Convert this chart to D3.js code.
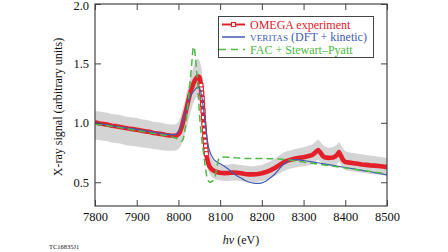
<!DOCTYPE html>
<html><head><meta charset="utf-8">
<script src="https://cdn.jsdelivr.net/npm/d3@7"></script>
<style>
html,body{margin:0;padding:0;background:#fff;}
svg{display:block;}
svg text{font-family:"Liberation Serif","Times New Roman",serif !important;}
</style></head><body>
<svg id="c" width="448" height="252"></svg>
<script>
// ---------- data ----------
const xTicks = [7800, 7900, 8000, 8100, 8200, 8300, 8400, 8500];
const yTicks = [0.5, 1.0, 1.5, 2.0];

// OMEGA experiment
const expE = [7800,7810,7820,7830,7840,7850,7860,7870,7880,7890,7900,7910,7920,7930,7940,7950,7960,7970,7980,7990,
  7995,8000,8003,8006,8009,8012,8015,8018,8021,8024,8027,8030,8033,8036,8039,8042,8045,8048,8050,
  8051,8052,8053,8054,8055,8056,8057,8058,8059,8060,8061,8062,8063,8064,8065,8066,8067,8068,8069,8070,
  8071,8072,8073,8074,8075,8077,8079,8082,8086,8090,8095,8100,
  8110,8120,8130,8140,8150,8160,8170,8180,8190,8200,8210,8220,8230,8240,8250,8260,8270,8280,8290,8300,
  8310,8320,8325,8330,8335,8340,8345,8350,8360,8370,8375,8380,8385,8390,8395,8400,
  8410,8420,8430,8440,8450,8460,8470,8480,8490,8500];
const expS = [1.005,0.995,0.99,0.985,0.975,0.972,0.965,0.958,0.952,0.947,0.942,0.935,0.928,0.925,0.915,0.91,0.905,0.898,0.893,0.89,
  0.893,0.905,0.92,0.945,0.98,1.02,1.06,1.10,1.145,1.19,1.235,1.27,1.30,1.33,1.355,1.37,1.385,1.39,1.385,
  1.375,1.36,1.34,1.315,1.285,1.25,1.205,1.155,1.10,1.045,0.99,0.94,0.89,0.845,0.805,0.77,0.74,0.715,0.695,0.68,
  0.665,0.655,0.645,0.637,0.63,0.62,0.612,0.603,0.595,0.588,0.583,0.58,
  0.577,0.578,0.582,0.58,0.575,0.57,0.566,0.566,0.57,0.576,0.586,0.60,0.618,0.64,0.663,0.68,0.69,0.70,0.705,0.71,
  0.718,0.728,0.74,0.758,0.77,0.752,0.725,0.71,0.705,0.708,0.715,0.73,0.752,0.72,0.685,0.67,
  0.665,0.66,0.655,0.65,0.646,0.642,0.64,0.636,0.632,0.627];

// experimental uncertainty band
const bandE = [7800,7810,7820,7830,7840,7850,7860,7870,7880,7890,7900,7910,7920,7930,7940,7950,7960,7970,7980,7990,
  7995,8000,8005,8010,8015,8020,8025,8030,8035,8040,8045,8050,8055,8060,8065,8070,8075,8080,8085,8090,8095,8100,
  8110,8120,8130,8140,8150,8160,8170,8180,8190,8200,8210,8220,8230,8240,8250,8260,8270,8280,8290,8300,
  8310,8320,8330,8335,8340,8350,8360,8370,8380,8385,8390,8400,8410,8420,8430,8440,8450,8460,8470,8480,8490,8500];
const bandHi = [1.10,1.095,1.09,1.085,1.075,1.07,1.065,1.055,1.05,1.045,1.04,1.03,1.025,1.02,1.01,1.005,1.0,0.99,0.985,0.985,
  0.99,1.01,1.05,1.11,1.18,1.26,1.33,1.40,1.46,1.51,1.54,1.53,1.47,1.30,1.05,0.86,0.75,0.70,0.675,0.66,0.655,0.65,
  0.645,0.65,0.655,0.65,0.645,0.64,0.635,0.635,0.64,0.645,0.66,0.675,0.695,0.72,0.745,0.76,0.77,0.78,0.785,0.795,
  0.805,0.815,0.845,0.86,0.84,0.80,0.79,0.795,0.815,0.84,0.81,0.76,0.75,0.745,0.74,0.735,0.73,0.725,0.72,0.715,0.71,0.705];
const bandLo = [0.86,0.855,0.85,0.845,0.835,0.83,0.825,0.815,0.81,0.805,0.80,0.795,0.79,0.785,0.78,0.775,0.77,0.765,0.765,0.765,
  0.77,0.78,0.80,0.84,0.90,0.96,1.03,1.10,1.16,1.20,1.22,1.20,1.05,0.85,0.70,0.61,0.57,0.545,0.53,0.525,0.52,0.515,
  0.51,0.51,0.515,0.515,0.51,0.505,0.50,0.50,0.505,0.51,0.52,0.535,0.55,0.57,0.59,0.605,0.615,0.625,0.63,0.635,
  0.64,0.65,0.675,0.69,0.675,0.64,0.635,0.635,0.65,0.675,0.645,0.60,0.595,0.59,0.585,0.58,0.575,0.57,0.57,0.565,0.56,0.555];

// VERITAS (DFT + kinetic)
const verE = [7800,7850,7900,7950,7980,7990,7995,8000,8005,8010,8015,8020,8025,8030,8035,8040,8045,8048,8051,8054,8057,
  8060,8063,8066,8069,8072,8076,8080,8085,8090,8100,8110,8120,8130,8140,8150,8160,8170,8180,8190,8200,
  8210,8220,8230,8240,8250,8260,8270,8280,8290,8300,8320,8340,8360,8380,8400,8420,8440,8460,8480,8500];
const verS = [1.0,0.97,0.945,0.915,0.90,0.90,0.905,0.925,0.96,1.01,1.07,1.13,1.19,1.23,1.26,1.28,1.30,1.305,1.29,1.255,1.20,
  1.12,1.03,0.94,0.86,0.80,0.75,0.72,0.69,0.675,0.655,0.635,0.61,0.58,0.555,0.535,0.515,0.50,0.492,0.49,0.495,
  0.51,0.535,0.565,0.605,0.645,0.67,0.685,0.69,0.688,0.683,0.672,0.66,0.648,0.636,0.624,0.612,0.60,0.588,0.575,0.562];

// FAC + Stewart–Pyatt
const facE = [7800,7850,7900,7950,7980,7995,8000,8005,8008,8012,8016,8020,8024,8028,8032,8036,8038,8041,8044,8048,
  8052,8056,8060,8064,8068,8072,8076,8080,8084,8088,8092,8096,8100,8104,8110,8120,8140,8160,8180,8200,
  8220,8240,8260,8280,8300,8320,8340,8360,8380,8400,8420,8440,8460,8480,8500];
const facS = [0.99,0.965,0.935,0.905,0.885,0.87,0.86,0.85,0.845,0.87,0.95,1.06,1.20,1.34,1.50,1.64,1.63,1.54,1.42,1.21,
  1.00,0.86,0.75,0.64,0.55,0.51,0.50,0.505,0.52,0.55,0.62,0.69,0.705,0.71,0.712,0.71,0.705,0.70,0.70,0.70,
  0.698,0.695,0.69,0.68,0.67,0.66,0.65,0.64,0.63,0.62,0.61,0.60,0.59,0.58,0.57];

const legendLabels = ["OMEGA experiment", "VERITAS", " (DFT + kinetic)", "FAC + Stewart–Pyatt"];

// ---------- drawing ----------
const RED = "#e3202a", BLUE = "#3f5cb4", GREEN = "#4cb944", AX = "#444";
const FONT = "Liberation Serif, Times New Roman, serif";
const svg = d3.select("#c");
const L = 95, R = 387, T = 4, B = 206;
const x = d3.scaleLinear().domain([7800, 8500]).range([L, R]);
const y = d3.scaleLinear().domain([0.3, 2.0]).range([B, T]);

svg.append("defs").append("clipPath").attr("id", "clip")
  .append("rect").attr("x", L).attr("y", T).attr("width", R - L).attr("height", B - T);
const g = svg.append("g").attr("clip-path", "url(#clip)");

const band = bandE.map((e, i) => ({e, hi: bandHi[i], lo: bandLo[i]}));
g.append("path").datum(band)
  .attr("d", d3.area().x(d => x(d.e)).y0(d => y(d.lo)).y1(d => y(d.hi)))
  .attr("fill", "#d4d4d4");

const exp = expE.map((e, i) => ({e, s: expS[i]}));
g.append("path").datum(exp)
  .attr("d", d3.line().x(d => x(d.e)).y(d => y(d.s)))
  .attr("fill", "none").attr("stroke", RED).attr("stroke-width", 4.6).attr("stroke-linejoin", "round");

// open square markers; where the original dense markers overlap they merge into a solid band,
// so only well separated (steep) markers keep a visible white interior
const ms = 4;
const steepAt = i => {
  if (i === 0 || i === exp.length - 1) return false;
  const px = x(exp[i].e), py = y(exp[i].s);
  const st = j => {
    const dx = Math.abs(px - x(exp[j].e)), dy = Math.abs(py - y(exp[j].s));
    return dy > 2.6 && dy > 5 * dx;
  };
  return st(i - 1) && st(i + 1);
};
g.selectAll("rect.m").data(exp.filter((d, i) => steepAt(i))).join("rect").attr("class", "m")
  .attr("x", d => x(d.e) - ms / 2).attr("y", d => y(d.s) - ms / 2)
  .attr("width", ms).attr("height", ms)
  .attr("stroke", RED).attr("stroke-width", 1.1).attr("fill", "#fff");

const ver = verE.map((e, i) => ({e, s: verS[i]}));
g.append("path").datum(ver)
  .attr("d", d3.line().x(d => x(d.e)).y(d => y(d.s)).curve(d3.curveMonotoneX))
  .attr("fill", "none").attr("stroke", BLUE).attr("stroke-width", 1.2);

const fac = facE.map((e, i) => ({e, s: facS[i]}));
g.append("path").datum(fac)
  .attr("d", d3.line().x(d => x(d.e)).y(d => y(d.s)).curve(d3.curveMonotoneX))
  .attr("fill", "none").attr("stroke", GREEN).attr("stroke-width", 1.5)
  .attr("stroke-dasharray", "7,4");

// axes (ticks inward)
const styleAxis = sel => {
  sel.attr("font-family", FONT);
  sel.select(".domain").remove();
  sel.selectAll(".tick line").attr("stroke", AX).attr("stroke-width", 1);
  sel.selectAll(".tick text").attr("fill", "#111").attr("font-size", 12.5).attr("font-family", FONT);
};
svg.append("g").attr("transform", `translate(0,${B})`)
  .call(d3.axisBottom(x).tickValues(xTicks).tickFormat(d3.format("d")).tickSizeInner(-6).tickSizeOuter(0).tickPadding(6))
  .call(styleAxis);
svg.append("g").attr("transform", `translate(0,${T})`)
  .call(d3.axisTop(x).tickValues(xTicks).tickFormat("").tickSizeInner(-6).tickSizeOuter(0))
  .call(styleAxis);
const ya = svg.append("g").attr("transform", `translate(${L},0)`)
  .call(d3.axisLeft(y).tickValues(yTicks).tickFormat(d3.format(".1f")).tickSizeInner(-6).tickSizeOuter(0).tickPadding(6))
  .call(styleAxis);
ya.selectAll(".tick text").filter(d => d === 2.0).attr("dy", "0.45em");
svg.append("g").attr("transform", `translate(${R},0)`)
  .call(d3.axisRight(y).tickValues(yTicks).tickFormat("").tickSizeInner(-6).tickSizeOuter(0))
  .call(styleAxis);

svg.append("rect").attr("x", L).attr("y", T).attr("width", R - L).attr("height", B - T)
  .attr("fill", "none").attr("stroke", AX).attr("stroke-width", 1.2);

// axis titles
svg.append("text").attr("transform", `translate(62,${(T + B) / 2 + 2}) rotate(-90)`)
  .attr("text-anchor", "middle").attr("font-size", 12).attr("fill", "#111").attr("font-family", FONT)
  .text("X-ray signal (arbitrary units)");
const xt = svg.append("text").attr("x", (L + R) / 2).attr("y", 244)
  .attr("text-anchor", "middle").attr("font-size", 12).attr("fill", "#111").attr("font-family", FONT);
xt.append("tspan").attr("font-style", "italic").text("hν");
xt.append("tspan").text(" (eV)");

svg.append("text").attr("x", 49).attr("y", 249).attr("font-size", 6.5).attr("fill", "#111")
  .attr("font-family", FONT).text("TC16835J1");

// legend
const lg = svg.append("g").attr("font-family", FONT);
lg.append("rect").attr("x", 218.5).attr("y", 16.5).attr("width", 155).attr("height", 41)
  .attr("fill", "#fff").attr("stroke", AX).attr("stroke-width", 1);
const rows = [24.5, 37, 49.5];
lg.append("line").attr("x1", 222).attr("x2", 245).attr("y1", rows[0]).attr("y2", rows[0])
  .attr("stroke", RED).attr("stroke-width", 2);
lg.append("rect").attr("x", 233.5 - 2).attr("y", rows[0] - 2).attr("width", 4).attr("height", 4)
  .attr("fill", "#fff").attr("stroke", RED).attr("stroke-width", 1.1);
lg.append("line").attr("x1", 222).attr("x2", 245).attr("y1", rows[1]).attr("y2", rows[1])
  .attr("stroke", BLUE).attr("stroke-width", 1.5);
lg.append("line").attr("x1", 219).attr("x2", 245).attr("y1", rows[2]).attr("y2", rows[2])
  .attr("stroke", GREEN).attr("stroke-width", 1.5).attr("stroke-dasharray", "7,5");
lg.append("text").attr("x", 250).attr("y", rows[0] + 4).attr("font-size", 12).attr("fill", RED).text(legendLabels[0]);
const vt = lg.append("text").attr("x", 250).attr("y", rows[1] + 4).attr("font-size", 12).attr("fill", BLUE);
vt.append("tspan").attr("font-size", 9.2).text(legendLabels[1]);
vt.append("tspan").text(legendLabels[2]);
lg.append("text").attr("x", 250).attr("y", rows[2] + 4).attr("font-size", 12).attr("fill", GREEN).text(legendLabels[3]);
</script>
</body></html>
